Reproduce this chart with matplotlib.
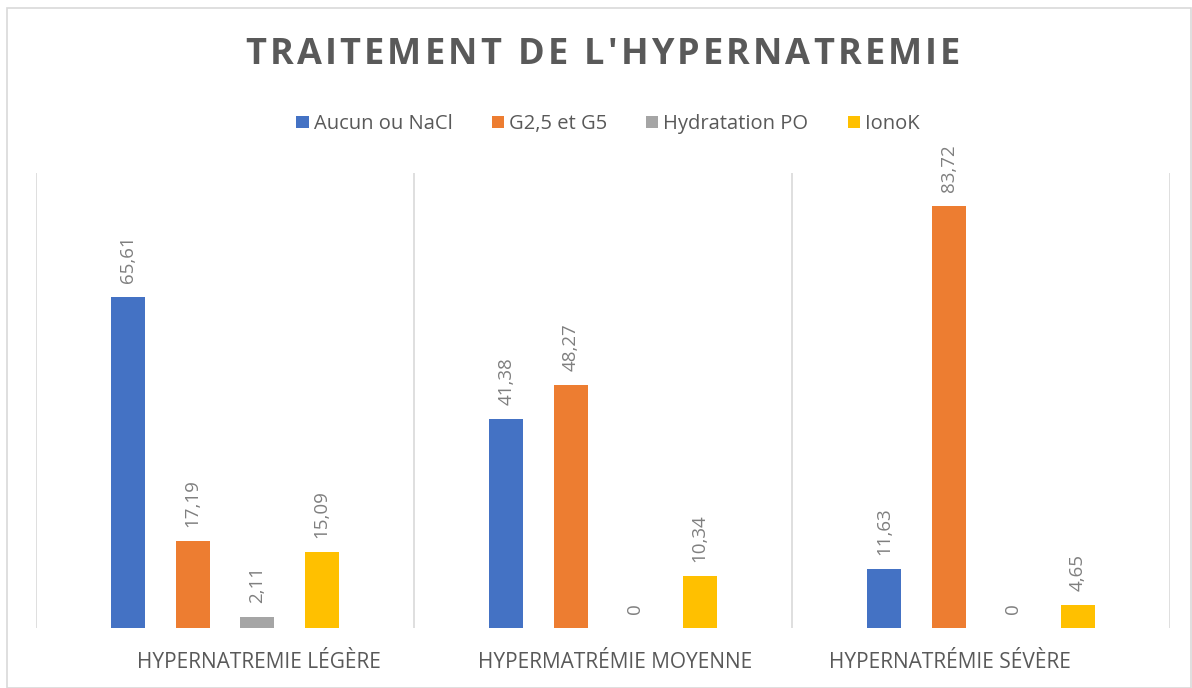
import matplotlib.pyplot as plt
from matplotlib.patches import Rectangle
import numpy as np

# Data
categories = ["HYPERNATREMIE LÉGÈRE", "HYPERMATRÉMIE MOYENNE", "HYPERNATRÉMIE SÉVÈRE"]
series = ["Aucun ou NaCl", "G2,5 et G5", "Hydratation PO", "IonoK"]
aucun = [65.61, 41.38, 11.63]
g25_g5 = [17.19, 48.27, 83.72]
hydratation = [2.11, 0, 0]
ionok = [15.09, 10.34, 4.65]

values = [aucun, g25_g5, hydratation, ionok]
colors = ["#4472C4", "#ED7D31", "#A5A5A5", "#FFC000"]
label_shift = [0.09, 0.032, -0.082]  # category labels are not quite centred in the original


def fmt(v):
    return f"{v:g}".replace(".", ",")


plt.rcParams['font.family'] = ['Open Sans', 'DejaVu Sans']

fig = plt.figure(figsize=(11.92, 6.88), dpi=100)
ax = fig.add_axes([36 / 1192, 60 / 688, 1134 / 1192, 455 / 688])

x = np.arange(len(categories))
step = 0.1706
width = 0.09
for i, (name, vals, col) in enumerate(zip(series, values, colors)):
    pos = x + (i - 1.5) * step
    ax.bar(pos, vals, width=width, color=col, label=name)
    for px, v in zip(pos, vals):
        ax.annotate(fmt(v), (px, v), xytext=(0, 10), textcoords="offset points",
                    rotation=90, ha="center", va="bottom", fontsize=13.5, color="#7F7F7F")

ax.set_xlim(-0.5, 2.5)
ax.set_ylim(0, 90.2)
for b in [-0.5, 0.5, 1.5, 2.5]:
    ax.axvline(b, color="#D9D9D9", lw=1.2)
for s in ax.spines.values():
    s.set_visible(False)
ax.set_yticks([])
ax.set_xticks(x + np.array(label_shift))
ax.set_xticklabels(categories, fontsize=15, color="#595959")
ax.tick_params(axis="x", length=0, pad=17)

# letter-spaced title, drawn character by character
title = "TRAITEMENT DE L'HYPERNATREMIE"
renderer = fig.canvas.get_renderer()
chars = []
for c in title:
    t = fig.text(0, 1 - 55 / 688, c, ha="left", va="center", fontsize=26,
                 fontweight="bold", color="#595959")
    w = t.get_window_extent(renderer).width if c != " " else 0
    chars.append((t, w))
space_w = 10
widths = [w if c != " " else space_w for (t, w), c in zip(chars, title)]
target = 715
gap = (target - sum(widths)) / (len(title) - 1)
xpix = 603 - target / 2
for (t, _), w in zip(chars, widths):
    t.set_x(xpix / 1192)
    xpix += w + gap

fig.legend(loc="center", bbox_to_anchor=(0.51, 1 - 124 / 688), ncol=4, frameon=False,
           fontsize=14.5, handlelength=0.6, handleheight=0.6, handletextpad=0.25,
           columnspacing=1.95, labelcolor="#595959")

fig.patches.append(Rectangle((7 / 1192, 0), 1184 / 1192, 1 - 8 / 688, transform=fig.transFigure,
                             fill=False, edgecolor="#D9D9D9", lw=1.2))

fig.savefig("out.png", dpi=100)
